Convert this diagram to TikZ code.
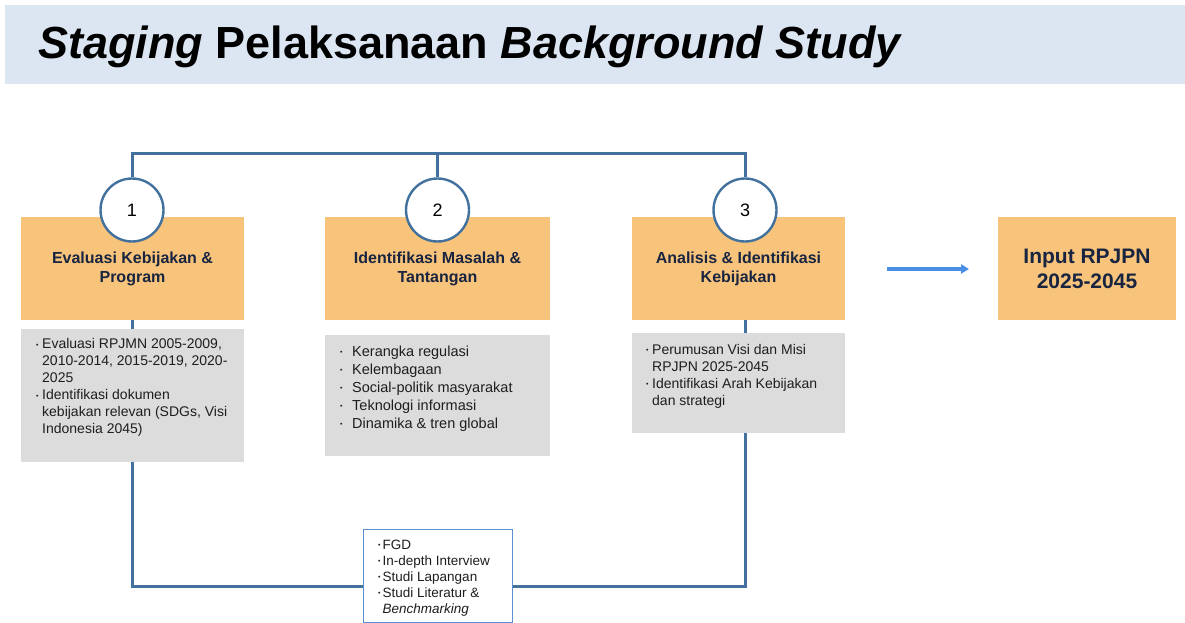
\documentclass[tikz,border=0pt]{standalone}
\usepackage{fontspec}
\setmainfont{Liberation Sans}
\usetikzlibrary{arrows.meta,backgrounds}
\definecolor{band}{HTML}{DCE6F2}
\definecolor{orng}{HTML}{F8C47C}
\definecolor{gry}{HTML}{DCDCDC}
\definecolor{lnk}{HTML}{41719C}
\definecolor{arrblue}{HTML}{4A8FE7}
\definecolor{navy}{HTML}{182440}
\definecolor{mbord}{HTML}{5B8FCF}
\definecolor{txt}{HTML}{1E1E1E}
\newcommand{\fsz}[2]{\fontsize{#1}{#2}\selectfont}
\newcommand{\bul}[1]{\makebox[#1][l]{\raisebox{1.6pt}{\fontsize{7}{7}\selectfont\textbullet}}}
\begin{document}
\begin{tikzpicture}[x=1pt,y=-1pt,
  orangebox/.style={fill=orng, minimum height=103pt, inner sep=0pt, text=navy, font=\fsz{16}{19}\bfseries, align=center},
  graybox/.style={fill=gry, inner sep=0pt},
  listtext/.style={anchor=north west, inner sep=0pt, align=left, text=txt},
  numcirc/.style={circle, draw=lnk, line width=2.4pt, fill=white, minimum size=63pt, inner sep=0pt, font=\fsz{18}{20}},
  link/.style={draw=lnk, line width=3pt}]
\useasboundingbox (0,0) rectangle (1185,623);
\fill[band] (5,5) rectangle (1185,84);
\node[anchor=base west, inner sep=0pt, font=\fsz{45}{50}\bfseries] (title) at (38,59) {\textit{Staging} Pelaksanaan \textit{Background Study}};

% orange boxes
\node[orangebox, minimum width=223pt] (o1) at (132.5,268.5) {Evaluasi Kebijakan \&\\Program};
\node[orangebox, minimum width=225pt] (o2) at (437.5,268.5) {Identifikasi Masalah \&\\Tantangan};
\node[orangebox, minimum width=213pt] (o3) at (738.5,268.5) {Analisis \& Identifikasi\\Kebijakan};
\node[orangebox, minimum width=178pt, font=\fsz{21}{25}\bfseries] (o4) at (1087,268.5) {Input RPJPN\\2025-2045};

% gray boxes
\node[graybox, minimum width=223pt, minimum height=133pt] (g1) at (132.5,395.5) {};
\node[graybox, minimum width=225pt, minimum height=121pt] (g2) at (437.5,395.5) {};
\node[graybox, minimum width=213pt, minimum height=100pt] (g3) at (738.5,383) {};

\node[listtext, font=\fsz{14}{17}] (t1) at (36,338.5) {\bul{6pt}Evaluasi RPJMN 2005-2009,\\
\hspace*{6pt}2010-2014, 2015-2019, 2020-\\
\hspace*{6pt}2025\\
\bul{6pt}Identifikasi dokumen\\
\hspace*{6pt}kebijakan relevan (SDGs, Visi\\
\hspace*{6pt}Indonesia 2045)};

\node[listtext, font=\fsz{14.5}{18}] (t2) at (340,345.5) {\bul{12pt}Kerangka regulasi\\
\bul{12pt}Kelembagaan\\
\bul{12pt}Social-politik masyarakat\\
\bul{12pt}Teknologi informasi\\
\bul{12pt}Dinamika \& tren global};

\node[listtext, font=\fsz{14}{17}] (t3) at (646,344) {\bul{6pt}Perumusan Visi dan Misi\\
\hspace*{6pt}RPJPN 2025-2045\\
\bul{6pt}Identifikasi Arah Kebijakan\\
\hspace*{6pt}dan strategi};

% circles
\node[numcirc] (c1) at (132,210) {1};
\node[numcirc] (c2) at (437.5,210) {2};
\node[numcirc] (c3) at (745,210) {3};

% methods box
\node[draw=mbord, line width=1pt, fill=white, minimum width=149pt, minimum height=93pt, inner sep=0pt] (m) at (437.5,576) {};
\node[listtext, font=\fsz{13.5}{16}] (mt) at (378,539.5) {\bul{4.5pt}FGD\\
\bul{4.5pt}In-depth Interview\\
\bul{4.5pt}Studi Lapangan\\
\bul{4.5pt}Studi Literatur \&\\
\hspace*{4.5pt}\textit{Benchmarking}};

% connectors
\coordinate (top) at (0,153);
\coordinate (bot) at (0,586);
\begin{scope}[on background layer]
\draw[link] (c1.north) -- (c1 |- top) -- (c3 |- top) -- (c3.north);
\draw[link] (c2.north) -- (c2 |- top);
\draw[link] (c1.south) -- (c1 |- bot) -- (c3 |- bot) -- (c3.south);
\end{scope}

\coordinate (as) at (887,269);
\coordinate (ae) at (969,269);
\draw[draw=arrblue, line width=3.5pt, -{Triangle[length=8pt,width=9pt]}, arrblue] (as) -- (ae);
\end{tikzpicture}
\end{document}
